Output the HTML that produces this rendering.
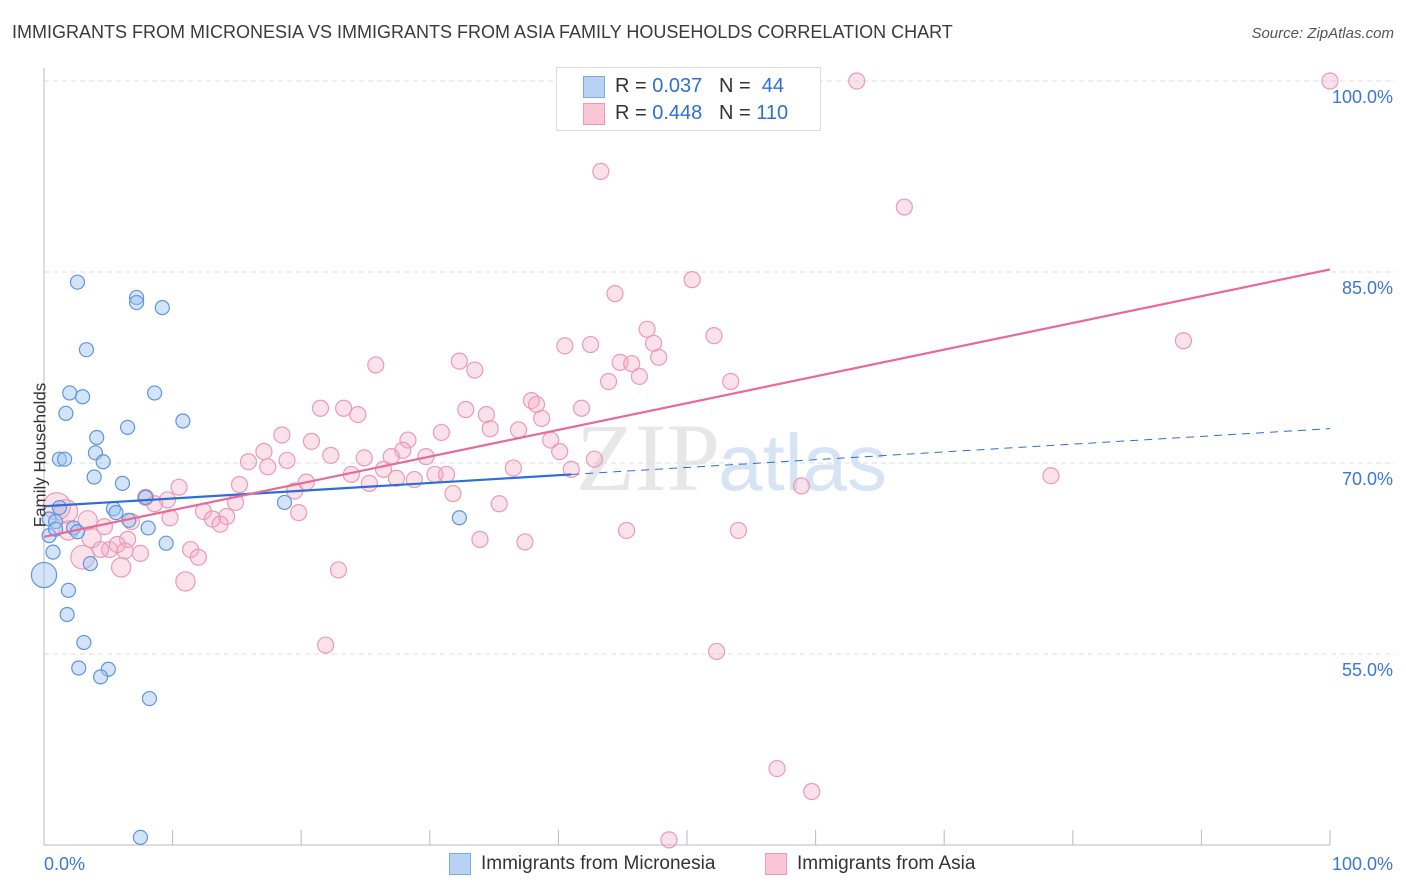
<!DOCTYPE html>
<html><head><meta charset="utf-8">
<style>
body{margin:0;background:#fff;font-family:"Liberation Sans",sans-serif;}
#wrap{position:relative;width:1406px;height:892px;overflow:hidden;}
.t{position:absolute;white-space:nowrap;}
</style></head>
<body>
<div id="wrap">
<div class="t" style="left:12px;top:22px;font-size:18px;color:#3a3a3a;">IMMIGRANTS FROM MICRONESIA VS IMMIGRANTS FROM ASIA FAMILY HOUSEHOLDS CORRELATION CHART</div>
<div class="t" style="right:12px;top:25px;font-size:15px;color:#555;font-style:italic;">Source: ZipAtlas.com</div>
<svg id="chart" width="1406" height="892" style="position:absolute;left:0;top:0">
<text x="720" y="490" text-anchor="end" font-family="Liberation Serif" font-size="96" fill="#d8d8d8" opacity="0.6">ZIP</text>
<text x="718" y="490" font-family="Liberation Sans" font-size="80" fill="#bcd3ee" opacity="0.6">atlas</text>
</svg>
<div class="t" style="left:-32px;top:445px;font-size:17px;color:#333;transform:rotate(-90deg);">Family Households</div>
<div style="position:absolute;left:556px;top:67px;width:263px;height:62px;border:1px solid #ddd;background:#fff;">
  <div style="position:absolute;left:26px;top:8px;width:20px;height:20px;background:#b8d2f4;border:1px solid #7fa8e0;"></div>
  <div class="t" style="left:58px;top:7px;font-size:20px;color:#333;">R = <span style="color:#2f6fd0">0.037</span>&nbsp;&nbsp;&nbsp;N = &nbsp;<span style="color:#2f6fd0">44</span></div>
  <div style="position:absolute;left:26px;top:35px;width:20px;height:20px;background:#fac6d6;border:1px solid #ee9ab4;"></div>
  <div class="t" style="left:58px;top:34px;font-size:20px;color:#333;">R = <span style="color:#2f6fd0">0.448</span>&nbsp;&nbsp;&nbsp;N = <span style="color:#2f6fd0">110</span></div>
</div>
<div style="position:absolute;left:449px;top:853px;width:20px;height:20px;background:#b8d2f4;border:1px solid #7fa8e0;"></div>
<div class="t" style="left:481px;top:853px;font-size:19px;color:#333;">Immigrants from Micronesia</div>
<div style="position:absolute;left:765px;top:853px;width:20px;height:20px;background:#fac6d6;border:1px solid #ee9ab4;"></div>
<div class="t" style="left:797px;top:853px;font-size:19px;color:#333;">Immigrants from Asia</div>
</div>
<script>
const blueX=[2.6,7.2,7.2,9.2,3.3,2.0,3.0,8.6,1.7,10.8,6.5,4.1,4.0,1.2,1.6,4.6,3.9,6.1,7.9,5.4,5.6,1.2,6.6,8.1,0.4,0.9,2.3,2.6,0.4,9.5,0.7,18.7,32.3,3.6,0,1.9,1.8,3.1,2.7,5.0,4.4,8.2,7.5,0.9];
const blueY=[84.2,83.0,82.6,82.2,78.9,75.5,75.2,75.5,73.9,73.3,72.8,72.0,70.8,70.3,70.3,70.1,68.9,68.4,67.3,66.4,66.1,66.5,65.5,64.9,65.6,65.4,64.9,64.6,64.3,63.7,63.0,66.9,65.7,62.1,61.2,60.0,58.1,55.9,53.9,53.8,53.2,51.5,40.6,64.8];
const blueW=[1,1,1,1,1,1,1,1,1,1,1,1,1,1,1,1,1,1,1,1,1,1,1,1,1,1,1,1,1,1,1,1,1,1,4,1,1,1,1,1,1,1,1,1];
const pinkX=[63.2,100,43.3,66.9,50.4,44.4,46.9,52.1,88.6,47.4,40.5,42.5,25.8,32.3,47.8,44.8,45.7,33.5,46.3,43.9,53.4,37.9,38.3,21.5,23.3,24.4,32.8,34.4,41.8,38.7,34.7,36.9,18.5,30.9,28.3,20.8,17.1,39.4,27.9,22.3,24.9,27.0,29.7,15.9,18.9,17.4,40.1,42.8,41.0,36.5,26.4,23.9,30.4,31.3,27.4,28.8,15.2,20.4,25.3,78.3,58.9,10.5,19.5,7.9,9.6,8.6,14.9,31.8,35.4,19.8,12.4,14.2,13.1,9.8,13.7,1.7,3.4,4.7,6.8,1.9,3.7,6.5,45.3,54.0,33.9,37.4,5.1,5.7,7.5,6.3,11.4,12.0,3.0,4.4,6.0,11.0,22.9,21.9,52.3,57.0,59.7,48.6,1.0];
const pinkY=[100,100,92.9,90.1,84.4,83.3,80.5,80.0,79.6,79.4,79.2,79.3,77.7,78.0,78.3,77.9,77.8,77.3,76.8,76.4,76.4,74.9,74.6,74.3,74.3,73.8,74.2,73.8,74.3,73.5,72.7,72.6,72.2,72.4,71.8,71.7,70.9,71.8,71.0,70.6,70.4,70.5,70.5,70.1,70.2,69.7,70.9,70.3,69.5,69.6,69.5,69.1,69.1,69.1,68.8,68.7,68.3,68.5,68.4,69.0,68.2,68.1,67.8,67.3,67.1,66.8,66.9,67.6,66.8,66.1,66.2,65.8,65.6,65.7,65.2,66.2,65.5,65.0,65.4,64.7,64.1,64.0,64.7,64.7,64.0,63.8,63.2,63.6,62.9,63.1,63.2,62.6,62.6,63.2,61.8,60.7,61.6,55.7,55.2,46.0,44.2,40.4,66.6];
const pinkW=[1,1,1,1,1,1,1,1,1,1,1,1,1,1,1,1,1,1,1,1,1,1,1,1,1,1,1,1,1,1,1,1,1,1,1,1,1,1,1,1,1,1,1,1,1,1,1,1,1,1,1,1,1,1,1,1,1,1,1,1,1,1,1,1,1,1,1,1,1,1,1,1,1,1,1,3,2,1,1,2,2,1,1,1,1,1,1,1,1,1,1,1,3,1,2,2,1,1,1,1,1,1,4];
const blueTrend=[66.6,72.7]; const blueSolidEnd=41;
const pinkTrend=[64.2,85.2];
const yTicks=[100,85,70,55];
const xTickLabels=["0.0%","100.0%"];

const NS="http://www.w3.org/2000/svg";
const svg=document.getElementById('chart');
const X=v=>44+v*12.86;
const Y=v=>81+(100-v)*12.733;
function mk(tag,attrs){const e=document.createElementNS(NS,tag);for(const k in attrs)e.setAttribute(k,attrs[k]);svg.appendChild(e);return e;}
yTicks.forEach(t=>{
  const g=mk('line',{x1:44,x2:1395,y1:Y(t),y2:Y(t),stroke:'#dcdcdc','stroke-dasharray':'5,4'});
  
  
  const l=mk('text',{x:1393,y:Y(t)+22,'text-anchor':'end','font-size':18,fill:'#3a78d4','font-family':'Liberation Sans'});
  l.textContent=t.toFixed(1)+'%';
  
  
});
const ax=mk('line',{x1:44,x2:1330,y1:845,y2:845,stroke:'#bbb'});


const ay=mk('line',{x1:44,x2:44,y1:68,y2:845,stroke:'#bbb'});


for(let i=0;i<=10;i++){
  const tk=mk('line',{x1:X(i*10),x2:X(i*10),y1:830,y2:845,stroke:'#bbb'});
  
  
}
[[0,'start',44],[1,'end',1393]].forEach(([i,a,x])=>{
  const l=mk('text',{x:x,y:870,'text-anchor':a,'font-size':18,fill:'#3a78d4','font-family':'Liberation Sans'});
  l.textContent=xTickLabels[i];
  
  
});
pinkX.forEach((v,i)=>{
  const c=mk('circle',{cx:X(v),cy:Y(pinkY[i]),r:8*Math.sqrt(pinkW[i])*(pinkW[i]>1?0.85:1),fill:'rgba(244,170,195,0.35)',stroke:'#ec9ab5','stroke-width':1.2});
  
  
});
blueX.forEach((v,i)=>{
  const c=mk('circle',{cx:X(v),cy:Y(blueY[i]),r:7*Math.sqrt(blueW[i])*(blueW[i]>1?0.9:1),fill:'rgba(160,195,240,0.45)',stroke:'#5f95dd','stroke-width':1.2});
  
  
});
const bAt=x=>blueTrend[0]+(blueTrend[1]-blueTrend[0])*x/100;
const bl=mk('line',{x1:X(0),y1:Y(bAt(0)),x2:X(blueSolidEnd),y2:Y(bAt(blueSolidEnd)),stroke:'#2a6fd6','stroke-width':2.2});


const bd=mk('line',{x1:X(blueSolidEnd),y1:Y(bAt(blueSolidEnd)),x2:X(100),y2:Y(bAt(100)),stroke:'#2a6fd6','stroke-width':1,'stroke-dasharray':'8,6'});


const pl=mk('line',{x1:X(0),y1:Y(pinkTrend[0]),x2:X(100),y2:Y(pinkTrend[1]),stroke:'#e8699a','stroke-width':2.2});


</script>
</body></html>
